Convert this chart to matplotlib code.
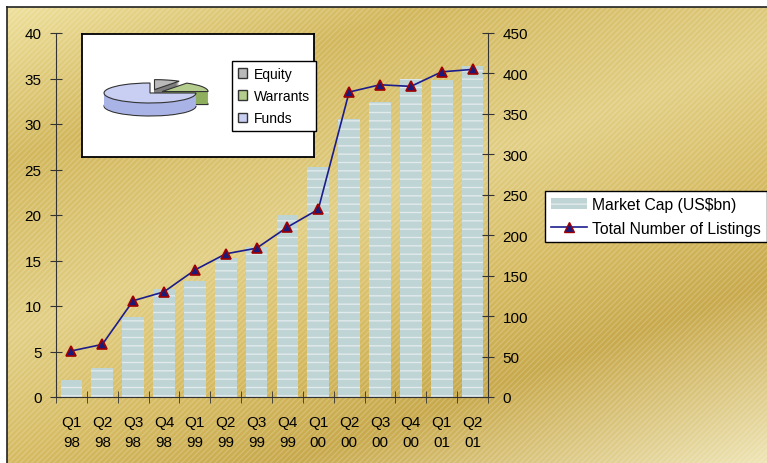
import numpy as np
import matplotlib.pyplot as plt
from matplotlib.patches import Patch, Rectangle
from matplotlib.lines import Line2D
from matplotlib.colors import to_rgb

plt.rcParams['font.family'] = ['Liberation Sans', 'DejaVu Sans']

quarters = ['Q1\n98', 'Q2\n98', 'Q3\n98', 'Q4\n98', 'Q1\n99', 'Q2\n99', 'Q3\n99',
            'Q4\n99', 'Q1\n00', 'Q2\n00', 'Q3\n00', 'Q4\n00', 'Q1\n01', 'Q2\n01']
market_cap = [1.9, 3.2, 8.8, 11.9, 12.7, 15.3, 16.5, 20.0, 25.3, 30.5, 32.4, 35.0, 34.8, 36.4]
listings = [57, 65, 119, 130, 157, 177, 184, 210, 232, 377, 386, 384, 402, 405]

pie_labels = ['Equity', 'Warrants', 'Funds']
pie_shares = [9, 16, 75]

W, H = 767, 464
fig = plt.figure(figsize=(W / 100, H / 100), dpi=100, facecolor='white')


def px(x0, y0, x1, y1):
    # pixel box, origin top-left -> figure rect
    return [x0 / W, 1 - y1 / H, (x1 - x0) / W, (y1 - y0) / H]


# gold gradient background
bg = fig.add_axes(px(7, 8, W + 3, H + 3))
yy, xx = np.mgrid[8:H + 3, 7:W + 3]
t = (107 * xx + 287 * yy) / (107 * W + 287 * H)
stops = [0.0, 0.22, 0.45, 0.62, 0.76, 1.0]
cols = ['#f0e3a0', '#d2b75c', '#e2cf84', '#d6bb62', '#c8a94c', '#efe5b6']
rgb = np.array([to_rgb(c) for c in cols])
img = np.dstack([np.interp(t, stops, rgb[:, k]) for k in range(3)])
bg.imshow(img, aspect='auto', extent=(0, 1, 0, 1), interpolation='bilinear')
bg.add_patch(Rectangle((0, 0), 1, 1, transform=bg.transAxes, facecolor='none',
                       edgecolor=(1, 1, 1, 0.18), hatch='//////', linewidth=0))
bg.set_xticks([])
bg.set_yticks([])
for s in ['right', 'bottom']:
    bg.spines[s].set_visible(False)
for s in ['left', 'top']:
    bg.spines[s].set_color('#222222')
    bg.spines[s].set_linewidth(1.2)

# main chart
x = np.arange(len(quarters))
ax = fig.add_axes(px(56, 34, 488, 398))
ax.set_facecolor('none')
bar_color = '#bfd4d5'
ax.bar(x, market_cap, width=0.7, color=bar_color, edgecolor='#e2eaec',
       hatch='--', linewidth=0, zorder=2)
ax.set_xlim(-0.5, len(quarters) - 0.5)
ax.set_ylim(0, 40)
ax.set_yticks(np.arange(0, 41, 5))
ax.set_xticks(x, quarters, linespacing=1.55)
ax.set_xticks(np.arange(-0.5, len(quarters), 1), minor=True)
ax.tick_params(axis='x', which='major', length=0, pad=13, labelsize=11)
ax.tick_params(axis='x', which='minor', direction='inout', length=8, color='#333333')
ax.tick_params(axis='y', direction='inout', length=9, pad=6, labelsize=11, color='#333333')
ax.spines['top'].set_visible(False)
ax.spines['right'].set_visible(False)
for s in ['left', 'bottom']:
    ax.spines[s].set_color('#333333')

ax2 = ax.twinx()
line_color = '#1c1c8c'
ax2.plot(x, listings, color=line_color, lw=1.2, marker='^', markersize=7,
         markerfacecolor='#1a1a7a', markeredgecolor='#a00000', markeredgewidth=1.2, zorder=3)
ax2.set_ylim(0, 450)
ax2.set_yticks(np.arange(0, 451, 50))
ax2.tick_params(axis='y', direction='inout', length=9, pad=6, labelsize=11, color='#333333')
ax2.spines['top'].set_visible(False)
ax2.spines['left'].set_visible(False)
ax2.spines['bottom'].set_visible(False)
ax2.spines['right'].set_color('#333333')

fig.legend(handles=[Patch(facecolor=bar_color, edgecolor='#e2eaec', hatch='--', linewidth=0),
                    Line2D([], [], color=line_color, lw=1.2, marker='^', markersize=7,
                           markerfacecolor='#1a1a7a', markeredgecolor='#a00000')],
           labels=['Market Cap (US\\$bn)', 'Total Number of Listings'],
           loc='upper left', bbox_to_anchor=(545 / W, 1 - 192 / H), fontsize=11.3,
           frameon=True, fancybox=False, framealpha=1, edgecolor='black',
           handlelength=2.3, handletextpad=0.3, borderpad=0.38, labelspacing=0.55,
           borderaxespad=0)

# pie inset
box = fig.add_axes(px(82, 35, 314, 158))
box.set_zorder(10)
box.set_facecolor('white')
box.set_xticks([])
box.set_yticks([])
for s in box.spines.values():
    s.set_color('black')
    s.set_linewidth(1.3)

pax = fig.add_axes(px(83, 36, 230, 157))
pax.set_zorder(11)
top_colors = ['#b9b9b9', '#b4cd8c', '#c9cff2']
side_colors = ['#7d7d7d', '#8fae5e', '#aab3e6']
explode = [0.35, 0.3, 0]
depth = 1.3
pie_kw = dict(startangle=90, counterclock=False, explode=explode, radius=1, frame=True)
pax.pie(pie_shares, colors=side_colors, center=(0, -depth),
        wedgeprops=dict(edgecolor='#333333', linewidth=0.8), **pie_kw)
for d in np.linspace(-depth + 0.1, -0.05, 12):
    pax.pie(pie_shares, colors=side_colors, center=(0, d),
            wedgeprops=dict(linewidth=0), **pie_kw)
wedges, _ = pax.pie(pie_shares, colors=top_colors, center=(0, 0),
                    wedgeprops=dict(edgecolor='#333333', linewidth=0.8), **pie_kw)
pax.set_aspect('auto')
pax.set_xlim(-67 / 46, 80 / 46)
pax.set_ylim(-6.3, 5.8)
pax.axis('off')

pax.legend(handles=[Patch(facecolor=c, edgecolor='#333333') for c in top_colors],
           labels=pie_labels, loc='upper left', bbox_to_anchor=(232 / W, 1 - 62 / H),
           bbox_transform=fig.transFigure, fontsize=10, frameon=True, fancybox=False,
           framealpha=1, edgecolor='black', handlelength=0.7, handleheight=0.7,
           handletextpad=0.5, borderpad=0.4, labelspacing=0.6, borderaxespad=0)

fig.savefig('out.png', dpi=100, facecolor='white')
